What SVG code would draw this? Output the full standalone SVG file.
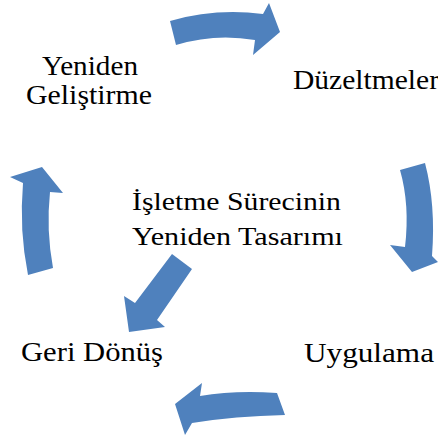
<svg xmlns="http://www.w3.org/2000/svg" width="438" height="438" viewBox="0 0 438 438">
  <style>
    .lbl { font-family: "Liberation Serif", "Times New Roman", serif; font-size: 26.5px; fill: #000; }
    .mid { font-size: 25px; }
    .arrow { fill: #4F81BD; }
  </style>
  <rect width="438" height="438" fill="#fff"/>

  <g id="connectors">
    <!-- top curved arrow: Yeniden Geliştirme -> Düzeltmeler -->
    <path class="arrow" d="M170,21 Q215,8 263,14 L269,3 L280,32 L253,55 L255,40 Q215,33 176,45 Z"/>
    <!-- right curved arrow: Düzeltmeler -> Uygulama -->
    <path class="arrow" d="M400,170 L425,163 Q436,205 432,256 L438,262 L412,272 L390,245 L405,247 Q410,205 400,170 Z"/>
    <!-- bottom curved arrow: Uygulama -> Geri Dönüş -->
    <path class="arrow" d="M277,393 L285,415 Q235,416 192,423 L185,435 L175,404 L202,383 L200,396 Q235,390 277,393 Z"/>
    <!-- left curved arrow: Geri Dönüş -> Yeniden Geliştirme -->
    <path class="arrow" d="M28,275 L53,268 Q46,230 50,192 L63,193 L42,167 L10,177 L23,183 Q19,230 28,275 Z"/>
    <!-- diagonal arrow: centre -> Geri Dönüş -->
    <path class="arrow" d="M172,254 L192,269 L157,320 L165,327 L129,332 L124,296 L135,303 Z"/>
  </g>

  <g id="node-yeniden-gelistirme">
    <text class="lbl" x="42" y="75" textLength="96" lengthAdjust="spacingAndGlyphs">Yeniden</text>
    <text class="lbl" x="26" y="104" textLength="126" lengthAdjust="spacingAndGlyphs">Geliştirme</text>
  </g>
  <g id="node-duzeltmeler">
    <text class="lbl" x="293" y="89" textLength="146" lengthAdjust="spacingAndGlyphs">Düzeltmeler</text>
  </g>
  <g id="node-uygulama">
    <text class="lbl" x="304" y="362" textLength="130" lengthAdjust="spacingAndGlyphs">Uygulama</text>
  </g>
  <g id="node-geri-donus">
    <text class="lbl" x="21" y="361" textLength="142" lengthAdjust="spacingAndGlyphs">Geri Dönüş</text>
  </g>
  <g id="node-center">
    <text class="lbl mid" x="132" y="210" textLength="209" lengthAdjust="spacingAndGlyphs">İşletme Sürecinin</text>
    <text class="lbl mid" x="132" y="245" textLength="211" lengthAdjust="spacingAndGlyphs">Yeniden Tasarımı</text>
  </g>
</svg>
